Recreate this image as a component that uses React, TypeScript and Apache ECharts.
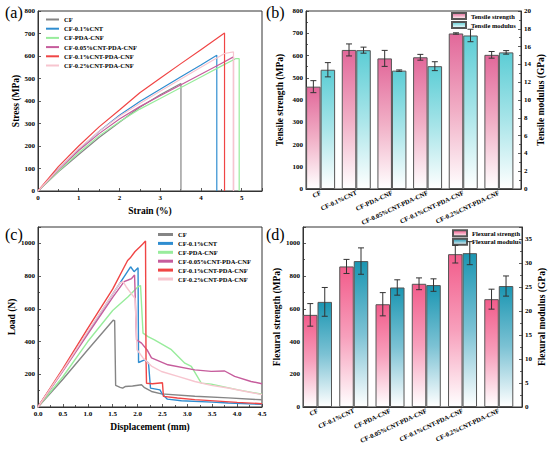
import React, { useEffect, useRef } from "react";
import * as echarts from "echarts";

const samples = ["CF", "CF-0.1%CNT", "CF-PDA-CNF", "CF-0.05%CNT-PDA-CNF", "CF-0.1%CNT-PDA-CNF", "CF-0.2%CNT-PDA-CNF"];
const lineColors = ["#858585", "#2f8dd0", "#98ec9c", "#c65c9c", "#f04545", "#f7c5cf"];

// (a) stress (MPa) vs strain (%)
const tensileCF = [[0, 0], [0.5, 85], [1, 162], [1.5, 238], [2, 306], [2.5, 372], [3, 428], [3.51, 478], [3.51, 0]];
const tensileCNT = [[0, 0], [0.5, 98], [1, 185], [1.5, 265], [2, 337], [2.5, 398], [3, 452], [3.5, 507], [4, 560], [4.39, 603], [4.39, 0]];
const tensilePDA = [[0, 0], [0.5, 88], [1, 170], [1.5, 245], [2, 308], [2.5, 364], [3, 411], [3.5, 459], [4, 507], [4.5, 555], [4.85, 588], [4.94, 588], [4.94, 0]];
const tensile005 = [[0, 0], [0.5, 94], [1, 180], [1.5, 255], [2, 320], [2.5, 375], [3, 423], [3.5, 471], [4, 519], [4.5, 567], [4.8, 596], [4.8, 0]];
const tensile01 = [[0, 0], [0.5, 108], [1, 200], [1.5, 285], [2, 360], [2.5, 437], [3, 501], [3.5, 565], [4, 628], [4.58, 702], [4.58, 0]];
const tensile02 = [[0, 0], [0.5, 97], [1, 188], [1.5, 265], [2, 332], [2.5, 389], [3, 443], [3.5, 497], [4, 550], [4.58, 611], [4.8, 618], [4.8, 0]];

// (c) load (N) vs displacement (mm)
const loadCF = [[0, 0], [0.5, 170], [1, 350], [1.51, 530], [1.54, 528], [1.56, 132], [1.65, 120], [1.7, 115], [1.75, 125], [1.9, 128], [2.08, 136], [2.14, 118], [2.28, 95], [2.48, 80], [3.15, 66], [3.82, 56], [4.5, 44]];
const loadCNT = [[0, 0], [0.5, 225], [1, 455], [1.5, 690], [1.86, 857], [1.93, 827], [2.01, 851], [2.02, 272], [2.14, 288], [2.22, 268], [2.26, 115], [2.45, 105], [2.5, 78], [2.6, 48], [2.88, 38], [3.5, 30], [3.82, 24], [4.5, 16]];
const loadPDA = [[0, 0], [0.5, 185], [1, 400], [1.5, 590], [1.81, 674], [2.01, 735], [2.06, 742], [2.11, 451], [2.21, 430], [2.34, 410], [2.68, 350], [2.95, 268], [3.08, 248], [3.28, 146], [3.48, 140], [4.02, 105], [4.5, 78]];
const load005 = [[0, 0], [0.5, 220], [1, 445], [1.5, 670], [1.73, 766], [1.81, 776], [1.88, 785], [1.94, 807], [1.98, 410], [2.08, 390], [2.2, 345], [2.28, 300], [2.61, 258], [3.15, 227], [3.48, 218], [3.75, 220], [3.95, 187], [4.28, 156], [4.5, 142]];
const load01 = [[0, 0], [0.5, 235], [1, 480], [1.5, 720], [1.8, 895], [1.85, 910], [1.95, 950], [2.05, 980], [2.1, 995], [2.16, 1014], [2.17, 290], [2.18, 145], [2.3, 142], [2.5, 148], [2.52, 65], [2.8, 55], [3.15, 45], [4, 28], [4.5, 20]];
const load02 = [[0, 0], [0.5, 225], [1, 460], [1.5, 690], [1.65, 758], [1.71, 766], [1.77, 735], [1.87, 694], [1.95, 664], [1.99, 350], [2.11, 300], [2.28, 250], [2.48, 217], [2.81, 187], [3.15, 156], [3.48, 132], [3.82, 116], [4.15, 96], [4.5, 76]];

// (b) tensile
const tensileStrength = [460, 625, 587, 592, 699, 603];
const tensileStrengthErr = [27, 27, 36, 13, 3, 15];
const tensileModulus = [13.4, 15.6, 13.3, 13.8, 17.25, 15.35];
const tensileModulusErr = [0.8, 0.34, 0.08, 0.5, 0.7, 0.2];

// (d) flexural
const flexStrength = [563, 859, 628, 753, 934, 659];
const flexStrengthErr = [69, 43, 71, 36, 54, 61];
const flexModulus = [21.9, 30.4, 24.9, 25.4, 32.05, 25.2];
const flexModulusErr = [3.0, 2.75, 1.6, 1.3, 2.4, 2.1];

const FONT = "'Liberation Serif', 'Times New Roman', serif";
const BAR_W = 14.5;

function grad(top: string, mid: string) {
  return new echarts.graphic.LinearGradient(0, 0, 0, 1, [
    { offset: 0, color: top },
    { offset: 0.5, color: mid },
    { offset: 1, color: "#ffffff" },
  ]);
}

const plain = (v: number) => String(v);
const labelStyle = { fontFamily: FONT, fontWeight: "bold", fontSize: 7, color: "#000", margin: 3, formatter: plain };
const nameStyle = { fontFamily: FONT, fontWeight: "bold", fontSize: 9.5, color: "#000" };
const tickStyle = { inside: true, length: 3, lineStyle: { color: "#333", width: 0.8 } };
const minorStyle = { show: true, splitNumber: 2, length: 2, lineStyle: { color: "#333", width: 0.8 } };
const lineAxis = { show: true, lineStyle: { color: "#333", width: 1 } };

function catFormatter(v: number) {
  const i = Math.round(v);
  if (Math.abs(v - i) < 1e-6 && i >= 1 && i <= samples.length) return samples[i - 1];
  return "";
}

function errSeries(xi: number, yi: number, vals: number[], errs: number[], offset: number) {
  return {
    type: "custom",
    xAxisIndex: xi,
    yAxisIndex: yi,
    silent: true,
    z: 10,
    encode: { x: 0, y: 1 },
    data: vals.map((v, i) => [i + 1, v, errs[i]]),
    renderItem: (params: any, api: any) => {
      const x = api.value(0);
      const v = api.value(1);
      const e = api.value(2);
      const t = api.coord([x, v + e]);
      const b = api.coord([x, v - e]);
      const cx = t[0] + offset;
      const st = { stroke: "#333", lineWidth: 1 };
      return {
        type: "group",
        children: [
          { type: "line", shape: { x1: cx, y1: t[1], x2: cx, y2: b[1] }, style: st },
          { type: "line", shape: { x1: cx - 3, y1: t[1], x2: cx + 3, y2: t[1] }, style: st },
          { type: "line", shape: { x1: cx - 3, y1: b[1], x2: cx + 3, y2: b[1] }, style: st },
        ],
      };
    },
  };
}

function lineSeries(name: string, data: number[][], color: string, xi: number, yi: number, w: number) {
  return {
    type: "line",
    name,
    xAxisIndex: xi,
    yAxisIndex: yi,
    data,
    symbol: "none",
    showSymbol: false,
    lineStyle: { color, width: w },
    itemStyle: { color },
  };
}

export default function App() {
  const ref = useRef<HTMLDivElement>(null);
  useEffect(() => {
    if (!ref.current) return;
    const chart = echarts.init(ref.current, undefined, { renderer: "svg" });
    const tensileCurves = [tensileCF, tensileCNT, tensilePDA, tensile005, tensile01, tensile02];
    const loadCurves = [loadCF, loadCNT, loadPDA, load005, load01, load02];
    const gridBase = { show: true, borderColor: "#333", borderWidth: 1, backgroundColor: "transparent", containLabel: false };
    const legendText = { fontFamily: FONT, fontWeight: "bold", fontSize: 6.5, lineHeight: 8, color: "#000" };
    const catLabel = { fontFamily: FONT, fontWeight: "bold", fontSize: 6.5, color: "#000", margin: 3, rotate: 25, formatter: catFormatter };

    const option: any = {
      animation: false,
      backgroundColor: "#ffffff",
      grid: [
        { ...gridBase, left: 38, top: 11, width: 224, height: 180 },
        { ...gridBase, left: 306, top: 11, width: 215, height: 178 },
        { ...gridBase, left: 38, top: 227, width: 224, height: 180 },
        { ...gridBase, left: 303, top: 227, width: 219, height: 180 },
      ],
      xAxis: [
        {
          gridIndex: 0, type: "value", min: 0, max: 5.5, interval: 1,
          name: "Strain (%)", nameLocation: "middle", nameGap: 15, nameTextStyle: nameStyle,
          axisLine: lineAxis, axisTick: tickStyle, minorTick: minorStyle, splitLine: { show: false },
          axisLabel: { ...labelStyle, showMaxLabel: false },
        },
        {
          gridIndex: 1, type: "value", min: 0.59, max: 6.62,
          axisLine: lineAxis, axisTick: { show: false }, splitLine: { show: false },
          axisLabel: catLabel,
        },
        {
          gridIndex: 2, type: "value", min: 0, max: 4.5, interval: 0.5,
          name: "Displacement (mm)", nameLocation: "middle", nameGap: 15, nameTextStyle: nameStyle,
          axisLine: lineAxis, axisTick: tickStyle, minorTick: minorStyle, splitLine: { show: false },
          axisLabel: { ...labelStyle, formatter: (v: number) => v.toFixed(1) },
        },
        {
          gridIndex: 3, type: "value", min: 0.6, max: 6.64,
          axisLine: lineAxis, axisTick: { show: false }, splitLine: { show: false },
          axisLabel: catLabel,
        },
      ],
      yAxis: [
        {
          gridIndex: 0, type: "value", min: 0, max: 800, interval: 100,
          name: "Stress (MPa)", nameLocation: "middle", nameGap: 17, nameRotate: 90, nameTextStyle: nameStyle,
          axisLine: lineAxis, axisTick: tickStyle, splitLine: { show: false }, axisLabel: labelStyle,
        },
        {
          gridIndex: 1, type: "value", min: 0, max: 800, interval: 100, position: "left",
          name: "Tensile strength (MPa)", nameLocation: "middle", nameGap: 21, nameRotate: 90, nameTextStyle: nameStyle,
          axisLine: lineAxis, axisTick: tickStyle, minorTick: minorStyle, splitLine: { show: false }, axisLabel: labelStyle,
        },
        {
          gridIndex: 1, type: "value", min: 0, max: 20, interval: 2, position: "right",
          name: "Tensile modulus (GPa)", nameLocation: "middle", nameGap: 15, nameRotate: 90, nameTextStyle: nameStyle,
          axisLine: lineAxis, axisTick: tickStyle, minorTick: minorStyle, splitLine: { show: false }, axisLabel: labelStyle,
        },
        {
          gridIndex: 2, type: "value", min: 0, max: 1100, interval: 200,
          name: "Load (N)", nameLocation: "middle", nameGap: 17, nameRotate: 90, nameTextStyle: nameStyle,
          axisLine: lineAxis, axisTick: tickStyle, minorTick: minorStyle, splitLine: { show: false },
          axisLabel: { ...labelStyle, showMaxLabel: false },
        },
        {
          gridIndex: 3, type: "value", min: 0, max: 1100, interval: 200, position: "left",
          name: "Flexural strength (MPa)", nameLocation: "middle", nameGap: 20, nameRotate: 90, nameTextStyle: nameStyle,
          axisLine: lineAxis, axisTick: tickStyle, minorTick: minorStyle, splitLine: { show: false },
          axisLabel: { ...labelStyle, showMaxLabel: false },
        },
        {
          gridIndex: 3, type: "value", min: 0, max: 37.5, interval: 5, position: "right",
          name: "Flexural modulus (GPa)", nameLocation: "middle", nameGap: 15, nameRotate: 90, nameTextStyle: nameStyle,
          axisLine: lineAxis, axisTick: tickStyle, minorTick: minorStyle, splitLine: { show: false },
          axisLabel: { ...labelStyle, showMaxLabel: false },
        },
      ],
      legend: [
        {
          data: samples, orient: "vertical", left: 46, top: 15.5, itemWidth: 13, itemHeight: 2, icon: "rect",
          itemGap: 1.2, textStyle: legendText, selectedMode: false, padding: 0,
        },
        {
          data: ["Tensile strength", "Tensile modulus"], orient: "vertical", left: 451, top: 12, itemWidth: 14, itemHeight: 6,
          icon: "rect", itemGap: 1, textStyle: { ...legendText, lineHeight: 7.5 }, selectedMode: false, padding: 0,
        },
        {
          data: samples, orient: "vertical", left: 158, top: 230.5, itemWidth: 15, itemHeight: 3, icon: "rect",
          itemGap: 0.9, textStyle: legendText, selectedMode: false, padding: 0,
        },
        {
          data: ["Flexural strength", "Flexural modulus"], orient: "vertical", left: 452, top: 229.2, itemWidth: 14, itemHeight: 6,
          icon: "rect", itemGap: 0.5, textStyle: { ...legendText, lineHeight: 7.2 }, selectedMode: false, padding: 0,
        },
      ],
      graphic: [
        { type: "text", left: 5, top: 4, style: { text: "(a)", fontFamily: FONT, fontSize: 16, fill: "#000" } },
        { type: "text", left: 266, top: 4, style: { text: "(b)", fontFamily: FONT, fontSize: 16, fill: "#000" } },
        { type: "text", left: 5, top: 226, style: { text: "(c)", fontFamily: FONT, fontSize: 16, fill: "#000" } },
        { type: "text", left: 266, top: 226, style: { text: "(d)", fontFamily: FONT, fontSize: 16, fill: "#000" } },
      ],
      series: [
        ...tensileCurves.map((d, i) => lineSeries(samples[i], d, lineColors[i], 0, 0, 1.2)),
        ...loadCurves.map((d, i) => lineSeries(samples[i], d, lineColors[i], 2, 3, 1.4)),
        {
          type: "bar", name: "Tensile strength", xAxisIndex: 1, yAxisIndex: 1, barWidth: BAR_W, barGap: "0%",
          data: tensileStrength.map((v, i) => [i + 1, v]),
          itemStyle: { color: grad("#e2689a", "#f1afc6"), borderColor: "#555", borderWidth: 1 },
        },
        {
          type: "bar", name: "Tensile modulus", xAxisIndex: 1, yAxisIndex: 2, barWidth: BAR_W, barGap: "0%",
          data: tensileModulus.map((v, i) => [i + 1, v]),
          itemStyle: { color: grad("#5ccdd5", "#a9e5e9"), borderColor: "#555", borderWidth: 1 },
        },
        {
          type: "bar", name: "Flexural strength", xAxisIndex: 3, yAxisIndex: 4, barWidth: BAR_W, barGap: "0%",
          data: flexStrength.map((v, i) => [i + 1, v]),
          itemStyle: { color: grad("#f25c8b", "#f7a0bc"), borderColor: "#555", borderWidth: 1 },
        },
        {
          type: "bar", name: "Flexural modulus", xAxisIndex: 3, yAxisIndex: 5, barWidth: BAR_W, barGap: "0%",
          data: flexModulus.map((v, i) => [i + 1, v]),
          itemStyle: { color: grad("#1b96b2", "#7cc2d4"), borderColor: "#555", borderWidth: 1 },
        },
        errSeries(1, 1, tensileStrength, tensileStrengthErr, -BAR_W / 2),
        errSeries(1, 2, tensileModulus, tensileModulusErr, BAR_W / 2),
        errSeries(3, 4, flexStrength, flexStrengthErr, -BAR_W / 2),
        errSeries(3, 5, flexModulus, flexModulusErr, BAR_W / 2),
      ],
    };
    chart.setOption(option);
    return () => chart.dispose();
  }, []);
  return <div ref={ref} style={{ position: "fixed", left: 0, top: 0, width: 550, height: 449, background: "#fff" }} />;
}
